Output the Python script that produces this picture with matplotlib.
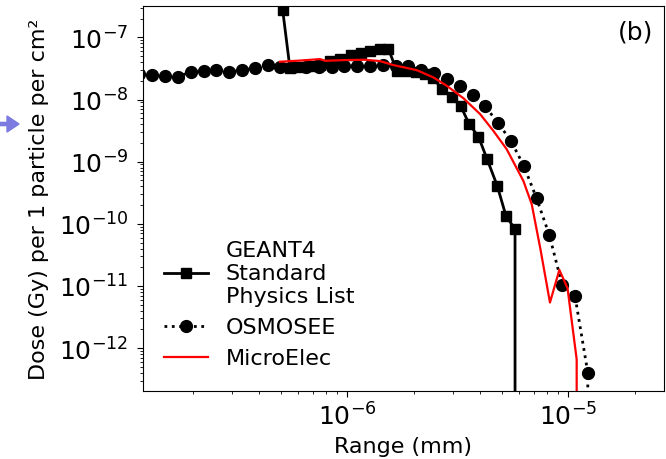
import matplotlib
matplotlib.use("Agg")
import matplotlib.pyplot as plt
from matplotlib.patches import FancyArrow

# GEANT4 Standard Physics List (squares)
geant_x = [5.10e-7, 5.50e-7, 6.11e-7, 6.78e-7, 7.52e-7, 8.35e-7, 9.27e-7, 1.039e-6,
           1.153e-6, 1.267e-6, 1.406e-6, 1.533e-6, 1.673e-6, 1.857e-6, 2.05e-6,
           2.247e-6, 2.45e-6, 2.67e-6, 2.97e-6, 3.26e-6, 3.56e-6, 3.92e-6, 4.29e-6,
           4.77e-6, 5.22e-6, 5.74e-6, 6.3e-6]
geant_y = [2.75e-7, 3.20e-8, 3.29e-8, 3.45e-8, 3.65e-8, 4.15e-8, 4.56e-8, 5.19e-8,
           5.69e-8, 6.13e-8, 6.6e-8, 6.6e-8, 2.90e-8, 2.90e-8, 2.76e-8,
           2.56e-8, 2.21e-8, 1.50e-8, 1.08e-8, 7.83e-9, 4.02e-9, 2.53e-9, 1.10e-9,
           4.07e-10, 1.35e-10, 8.18e-11, 0.0]

# OSMOSEE (circles, dotted)
osm_x = [1.147e-7, 1.311e-7, 1.498e-7, 1.712e-7, 1.956e-7, 2.236e-7, 2.555e-7, 2.920e-7,
         3.337e-7, 3.814e-7, 4.358e-7, 4.981e-7, 5.692e-7, 6.505e-7, 7.43e-7, 8.49e-7,
         9.70e-7, 1.109e-6, 1.267e-6, 1.448e-6, 1.655e-6, 1.891e-6, 2.161e-6, 2.470e-6,
         2.822e-6, 3.225e-6, 3.686e-6, 4.212e-6, 4.813e-6, 5.50e-6, 6.29e-6, 7.18e-6,
         8.21e-6, 9.38e-6, 1.072e-5, 1.225e-5, 1.40e-5]
osm_y = [2.56e-8, 2.50e-8, 2.41e-8, 2.32e-8, 2.79e-8, 2.90e-8, 3.01e-8, 2.73e-8,
         3.01e-8, 3.17e-8, 3.58e-8, 3.36e-8, 3.32e-8, 3.32e-8, 3.29e-8, 3.29e-8,
         3.49e-8, 3.49e-8, 3.49e-8, 3.58e-8, 3.45e-8, 3.45e-8, 2.97e-8, 2.66e-8,
         2.13e-8, 1.64e-8, 1.20e-8, 7.74e-9, 4.17e-9, 2.16e-9, 8.56e-10, 2.58e-10,
         6.55e-11, 1.03e-11, 6.90e-12, 4.03e-13, 0.0]

# MicroElec (red line)
micro_x = [4.96e-7, 6.11e-7, 7.52e-7, 7.93e-7, 9.76e-7, 1.202e-6, 1.406e-6, 1.615e-6,
           2.06e-6, 2.45e-6, 2.82e-6, 3.35e-6, 3.99e-6, 4.58e-6, 5.26e-6, 6.26e-6,
           6.83e-6, 7.48e-6, 8.26e-6, 9.11e-6, 9.92e-6, 1.091e-5, 1.2e-5]
micro_y = [4.05e-8, 4.23e-8, 4.47e-8, 4.20e-8, 4.31e-8, 4.36e-8, 4.15e-8, 3.58e-8,
           2.97e-8, 2.27e-8, 1.66e-8, 1.05e-8, 5.82e-9, 3.13e-9, 1.59e-9, 4.91e-10,
           2.07e-10, 3.90e-11, 5.41e-12, 1.81e-11, 9.18e-12, 6.6e-13, 0.0]

fig = plt.figure(figsize=(6.66, 4.6), dpi=100)
ax_w, ax_h = (664 - 143), (392 - 7.3)
ax = fig.add_axes([143/666, 1 - 392/460, ax_w/666, ax_h/460])

ax.plot(geant_x, geant_y, color='black', lw=2, marker='s', ms=7.5,
        label='GEANT4\nStandard\nPhysics List')
ax.plot(osm_x, osm_y, color='black', ls=':', lw=2, marker='o', ms=8.5,
        label='OSMOSEE')
ax.plot(micro_x, micro_y, color='red', lw=1.6, label='MicroElec')

ax.set_xscale('log', nonpositive='clip')
ax.set_yscale('log', nonpositive='clip')
ax.set_xlim(1.19e-7, 2.71e-5)
ax.set_ylim(2.04e-13, 3.16e-7)

ax.tick_params(axis='both', which='major', labelsize=18, length=4.5)
ax.tick_params(axis='y', which='major', pad=6)
ax.set_xlabel('Range (mm)', fontsize=16, labelpad=5)
ax.set_ylabel('Dose (Gy) per 1 particle per cm²', fontsize=16, labelpad=7)

ax.text(1 - 11/ax_w, 1 - 13/ax_h, '(b)', transform=ax.transAxes, ha='right',
        va='top', fontsize=18)

ax.legend(loc='lower left', frameon=False, fontsize=16, handlelength=2.0,
          borderaxespad=0.3, bbox_to_anchor=(5/ax_w, 7/ax_h))

fig.patches.append(FancyArrow(0.0, 1 - 125/460, 19/666, 0, width=0.007,
                              head_width=0.035, head_length=12/666,
                              length_includes_head=True, color='#7b7be0',
                              transform=fig.transFigure, figure=fig))

fig.savefig('out.png', dpi=100)
